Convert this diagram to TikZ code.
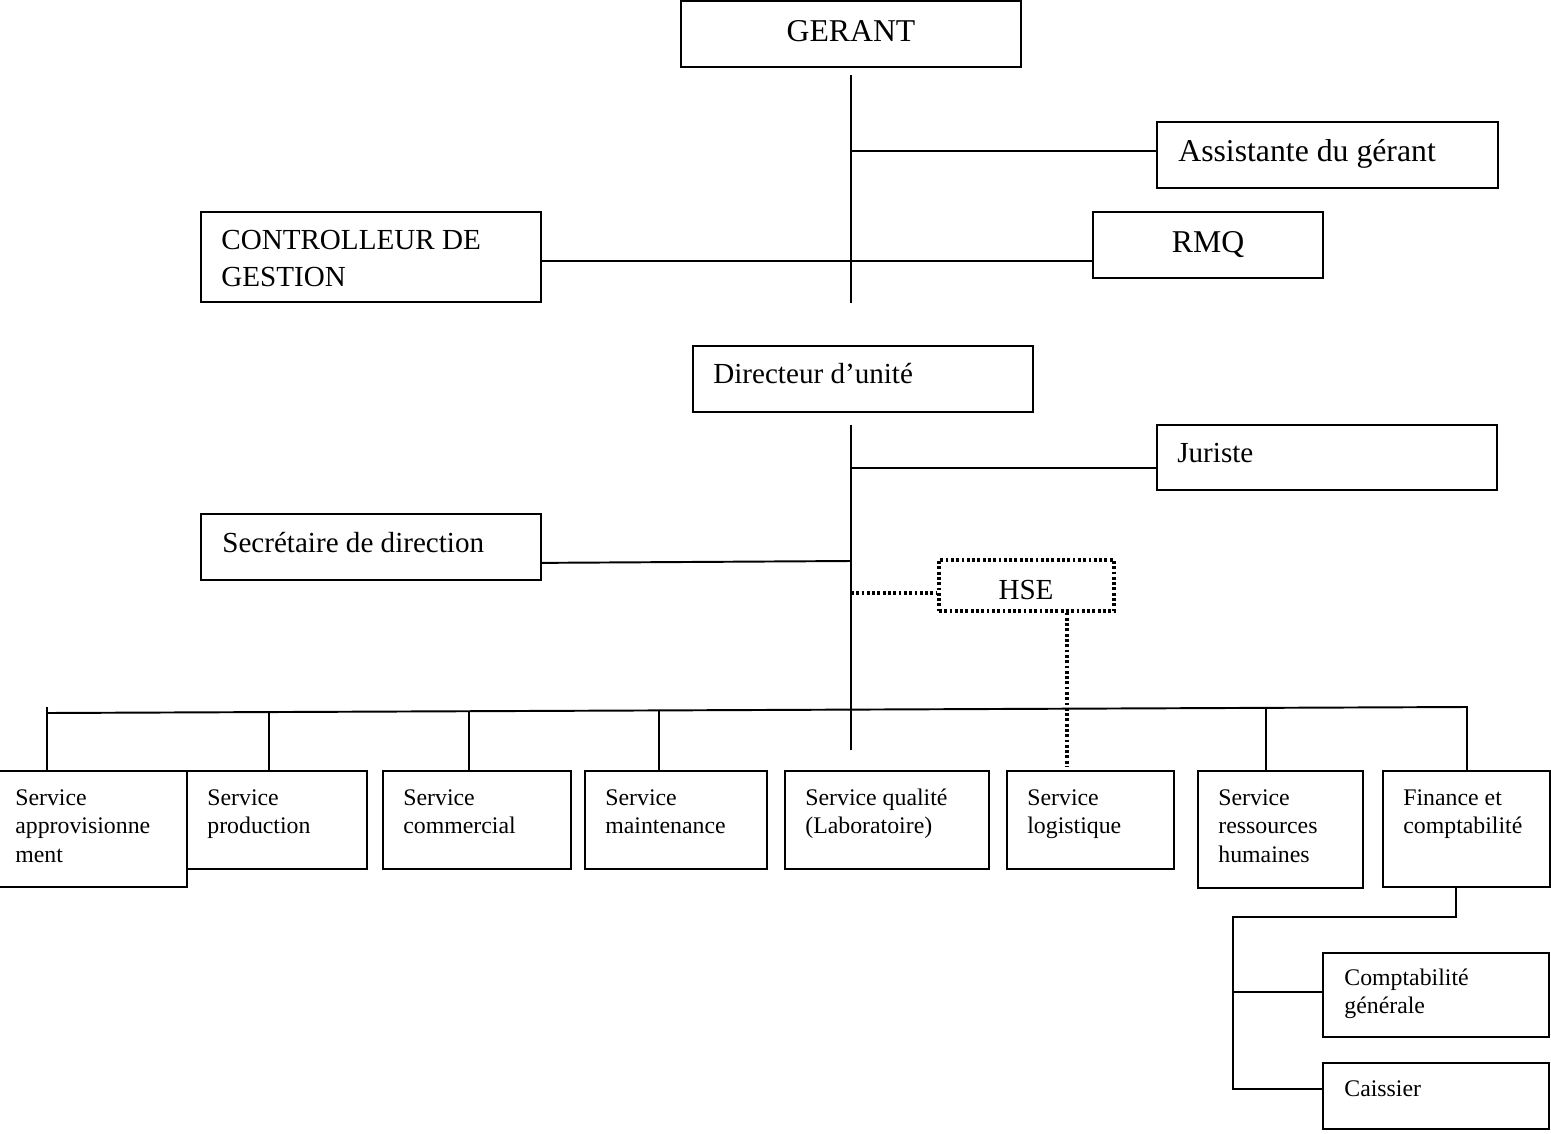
\documentclass[tikz,border=0pt]{standalone}
\usepackage{fontspec}
\setmainfont{Liberation Serif}
\usetikzlibrary{fit}
% stacked, left-aligned lines whose baseline is that of the first line
\newcommand\orglines[1]{\begin{tabular}[t]{@{}l@{}}#1\end{tabular}}
\begin{document}
\begin{tikzpicture}[x=0.567pt,y=-0.567pt,
  unit/.style={draw, line width=1.1pt, inner sep=0pt},
  dotbox/.style={draw, line width=1.8pt, inner sep=0pt, dash pattern=on 1.6pt off 1.4pt},
  link/.style={line width=1.1pt},
  dotlink/.style={line width=1.8pt, dash pattern=on 1.6pt off 1.4pt},
  big/.style={font=\fontsize{18}{21}\selectfont, inner sep=0pt},
  mid/.style={font=\fontsize{16.5}{21}\selectfont, inner sep=0pt},
  small/.style={font=\fontsize{13.5}{16.4}\selectfont, inner sep=0pt}
]
\useasboundingbox (0,0) rectangle (1551,1133);

% ---- top level
\node[unit, fit={(681,1) (1021,67)}] (ger) {};
\node[big, anchor=base] (ger-t) at (851,42) {GERANT};
\node[unit, fit={(1157,122) (1498,188)}] (ass) {};
\node[big, anchor=base west] (ass-t) at (1178,162) {Assistante du gérant};
\node[unit, fit={(201,212) (541,302)}] (ctl) {};
\node[mid, anchor=base west] (ctl-t) at (221,249) {\orglines{CONTROLLEUR DE\\GESTION}};
\node[unit, fit={(1093,212) (1323,278)}] (rmq) {};
\node[big, anchor=base] (rmq-t) at (1208,252) {RMQ};

\coordinate (gtop) at (851,75);
\coordinate (gbot) at (851,303);
\coordinate (jAss) at (851,151);
\coordinate (jCtl) at (851,261);
\draw[link] (gtop) -- (gbot);
\draw[link] (jAss) -- (jAss -| ass.west);
\draw[link] (jCtl -| ctl.east) -- (jCtl -| rmq.west);

% ---- unit director
\node[unit, fit={(693,346) (1033,412)}] (dir) {};
\node[mid, anchor=base west] (dir-t) at (713,383) {Directeur d’unité};
\node[unit, fit={(1157,425) (1497,490)}] (jur) {};
\node[mid, anchor=base west] (jur-t) at (1177,462) {Juriste};
\node[unit, fit={(201,514) (541,580)}] (sec) {};
\node[mid, anchor=base west] (sec-t) at (222,552) {Secrétaire de direction};
\node[dotbox, fit={(939,560) (1114,611)}] (hse) {};
\node[mid, anchor=base] (hse-t) at (1026,599) {HSE};

\coordinate (dtop) at (851,425);
\coordinate (dbot) at (851,750);
\coordinate (jJur) at (851,468);
\coordinate (jSec) at (851,561);
\coordinate (sSec) at ([yshift=-9pt]sec.east);
\coordinate (jHse) at (851,593);
\coordinate (xHse) at (1067,0);
\draw[link] (dtop) -- (dbot);
\draw[link] (jJur) -- (jJur -| jur.west);
\draw[link] (sSec) -- (jSec);
\draw[dotlink] (jHse) -- (jHse -| hse.west);

% ---- services
\node[unit, fit={(187,771) (367,869)}] (prd) {};
\node[unit, fit={(-1,771) (187,887)}] (apv) {};
\node[unit, fit={(383,771) (571,869)}] (com) {};
\node[unit, fit={(585,771) (767,869)}] (mnt) {};
\node[unit, fit={(785,771) (989,869)}] (qlt) {};
\node[unit, fit={(1007,771) (1174,869)}] (lgs) {};
\node[unit, fit={(1198,771) (1363,888)}] (rh) {};
\node[unit, fit={(1383,771) (1550,887)}] (fin) {};

\node[small, anchor=base west] (apv-t) at (15,805) {\orglines{Service\\approvisionne\\ment}};
\node[small, anchor=base west] (prd-t) at (207,805) {\orglines{Service\\production}};
\node[small, anchor=base west] (com-t) at (403,805) {\orglines{Service\\commercial}};
\node[small, anchor=base west] (mnt-t) at (605,805) {\orglines{Service\\maintenance}};
\node[small, anchor=base west] (qlt-t) at (805,805) {\orglines{Service qualité\\(Laboratoire)}};
\node[small, anchor=base west] (lgs-t) at (1027,805) {\orglines{Service\\logistique}};
\node[small, anchor=base west] (rh-t) at (1218,805) {\orglines{Service\\ressources\\humaines}};
\node[small, anchor=base west] (fin-t) at (1403,805) {\orglines{Finance et\\comptabilité}};

\coordinate (busL) at (47,713);
\coordinate (busR) at (1467,707);
\coordinate (b1) at (47,707);
\coordinate (b2) at (269,712.1);
\coordinate (b3) at (469,711.2);
\coordinate (b4) at (659,710.4);
\coordinate (b7) at (1266,707.8);
\draw[link] (busL) -- (busR) -- (busR |- fin.north);
\draw[link] (b1) -- (b1 |- apv.north);
\draw[link] (b2) -- (b2 |- prd.north);
\draw[link] (b3) -- (b3 |- com.north);
\draw[link] (b4) -- (b4 |- mnt.north);
\draw[link] (b7) -- (b7 |- rh.north);
\draw[dotlink, shorten >=2pt] (xHse |- hse.south) -- (xHse |- lgs.north);

% ---- finance sub-units
\node[unit, fit={(1323,953) (1549,1037)}] (cg) {};
\node[small, anchor=base west] (cg-t) at (1344,985) {\orglines{Comptabilité\\générale}};
\node[unit, fit={(1323,1063) (1549,1129)}] (cai) {};
\node[small, anchor=base west] (cai-t) at (1344,1096) {Caissier};

\coordinate (fDrop) at (1456,917);
\coordinate (fTurn) at (1233,917);
\coordinate (gJ) at (1233,992);
\coordinate (cJ) at (1233,1089);
\draw[link] (fDrop |- fin.south) -- (fDrop) -- (fTurn) -- (cJ) -- (cJ -| cai.west);
\draw[link] (gJ) -- (gJ -| cg.west);
\end{tikzpicture}
\end{document}
